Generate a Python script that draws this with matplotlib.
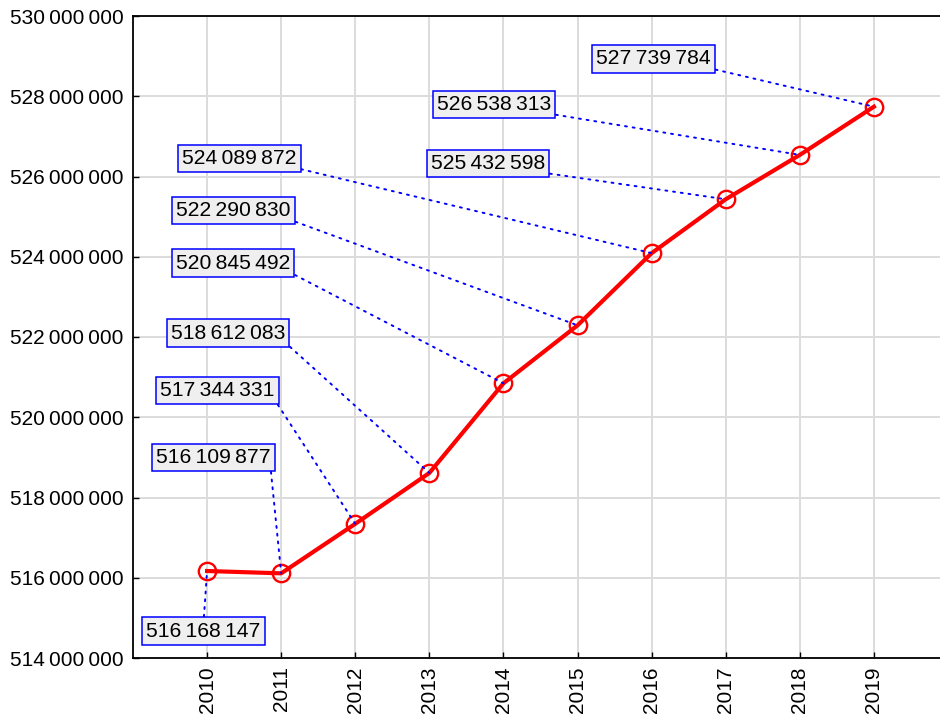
import matplotlib
matplotlib.use("Agg")
import matplotlib.pyplot as plt
from matplotlib.ticker import FuncFormatter, MultipleLocator

plt.rcParams['font.family'] = ['Liberation Sans', 'DejaVu Sans']

years = ["2010", "2011", "2012", "2013", "2014", "2015", "2016", "2017", "2018", "2019"]
values = [516168147, 516109877, 517344331, 518612083, 520845492,
          522290830, 524089872, 525432598, 526538313, 527739784]
# label offsets (pixels) relative to each point
label_dx = [-3.5, -68, -137.7, -201.3, -270.4, -344, -412.6, -237.7, -305.8, -220.4]
label_dy = [-60, 115.8, 133.3, 139.9, 120.3, 114.8, 94.6, 35.8, 50.4, 47.7]

def fmt(v):
    return f"{int(round(v)):,}".replace(",", "\u2009")

fig = plt.figure(figsize=(9.4, 7.14), dpi=100)
ax = fig.add_axes([133/940, 56/714, 815/940, 642/714])

x = list(range(len(years)))
ax.plot(x, values, color='red', lw=3.0, marker='o', ms=12.5, mfc='none',
        mec='red', mew=1.7, zorder=3)

for i, (v, dx, dy) in enumerate(zip(values, label_dx, label_dy)):
    rel = (0.5, 1.0) if dy < 0 else (1.0, 0.0)
    ax.annotate(fmt(v), xy=(i, v), xytext=(dx, dy), textcoords='offset pixels',
                ha='center', va='center', fontsize=15.2, color='black',
                bbox=dict(boxstyle='square,pad=0.2', fc='#efefef', ec='#0000ff', lw=1.1),
                arrowprops=dict(arrowstyle='-', color='#0000ff', lw=1.4,
                                linestyle=(0, (1, 3)), relpos=rel,
                                shrinkA=0, shrinkB=0),
                zorder=4)

ax.set_xlim(-1, 10)
ax.set_ylim(514000000, 530000000)
ax.set_xticks(x)
ax.set_xticklabels(years, rotation=90, fontsize=15)
ax.yaxis.set_major_locator(MultipleLocator(2000000))
ax.yaxis.set_major_formatter(FuncFormatter(lambda v, p: fmt(v)))
ax.tick_params(axis='y', labelsize=15, pad=7)
ax.tick_params(axis='x', pad=6)
ax.tick_params(direction='in', length=4, width=1, colors='black')
ax.grid(True, color='#dcdcdc', lw=1.4)
ax.set_axisbelow(True)
for s in ax.spines.values():
    s.set_linewidth(1.3)
    s.set_color('black')

fig.savefig("out.png", dpi=100)
